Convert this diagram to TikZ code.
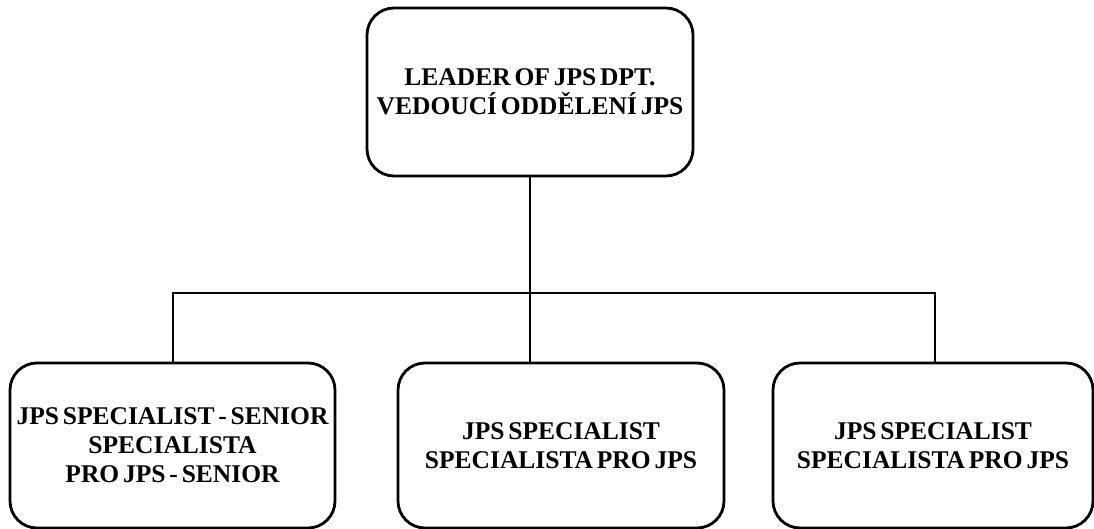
\documentclass[tikz,border=0pt]{standalone}
\usepackage{fontspec}
\setmainfont{Liberation Serif}[WordSpace=0.6]
\begin{document}
\begin{tikzpicture}[x=1pt,y=-1pt,
  orgbox/.style={draw=black, line width=2.8pt, rounded corners=27pt, fill=white,
    align=center, inner sep=0pt, font=\bfseries\fontsize{25.5}{29}\selectfont},
  link/.style={draw=black, line width=2.4pt}]
\useasboundingbox (0,0) rectangle (1094,529);
\node[orgbox, minimum width=326pt, minimum height=168pt] (top) at (530,92) {LEADER OF JPS DPT.\\VEDOUCÍ ODDĚLENÍ JPS};
\node[orgbox, minimum width=325pt, minimum height=165pt] (left) at (172.5,445.5) {JPS SPECIALIST - SENIOR\\SPECIALISTA\\PRO JPS - SENIOR};
\node[orgbox, minimum width=326pt, minimum height=165pt] (mid) at (561,445.5) {JPS SPECIALIST\\SPECIALISTA PRO JPS};
\node[orgbox, minimum width=320pt, minimum height=165pt] (right) at (933,445.5) {JPS SPECIALIST\\SPECIALISTA PRO JPS};
\coordinate (bus) at (530,293);
\coordinate (midtop) at (530,363);
\draw[link] (top.south) -- (midtop);
\draw[link] ([xshift=0.5pt]left.north) |- (bus) -| ([xshift=2pt]right.north);
\end{tikzpicture}
\end{document}
